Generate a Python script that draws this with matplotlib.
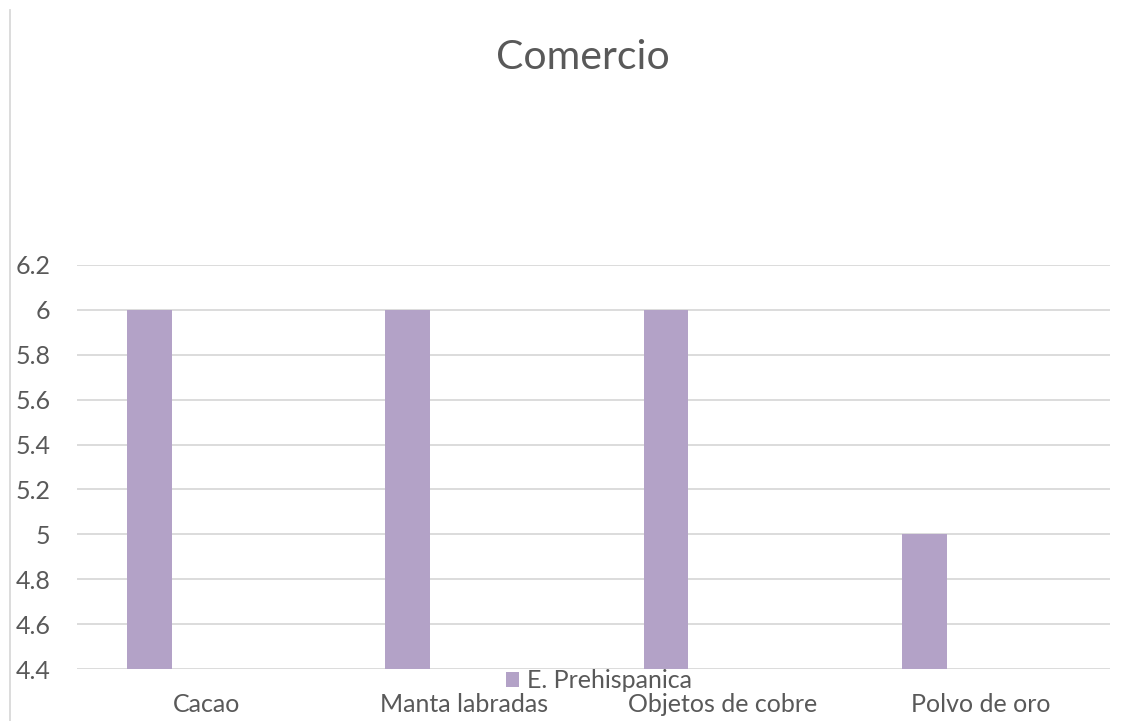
import numpy as np
import matplotlib.pyplot as plt
from matplotlib.lines import Line2D

# data
categories = ["Cacao", "Manta labradas", "Objetos de cobre", "Polvo de oro"]
prehispanica = [6, 6, 6, 5]
series_name = "E. Prehispanica"
y_ticks = [4.4, 4.6, 4.8, 5.0, 5.2, 5.4, 5.6, 5.8, 6.0, 6.2]

plt.rcParams['font.family'] = ['Lato', 'DejaVu Sans']
text_color = '#595959'

fig = plt.figure(figsize=(11.45, 7.21), dpi=100)
ax = fig.add_axes([0.0672, 0.0721, 0.9022, 0.5604])

x = np.arange(len(categories))
ax.bar(x - 0.219, prehispanica, width=0.174, color='#B3A2C7', label=series_name, zorder=3)

ax.set_xlim(-0.5, len(categories) - 0.5)
ax.set_ylim(4.4, 6.2)
ax.set_yticks(y_ticks)
ax.set_yticklabels([f"{v:g}" for v in y_ticks])
ax.set_xticks(x)
ax.set_xticklabels(categories)
ax.tick_params(axis='both', length=0, labelsize=18, labelcolor=text_color)
ax.tick_params(axis='x', pad=17)
ax.tick_params(axis='y', pad=19)

ax.grid(axis='y', color='#D9D9D9', linewidth=1.3, zorder=0)
for s in ax.spines.values():
    s.set_visible(False)

fig.text(0.509, 0.92, "Comercio", ha='center', va='center', fontsize=29.5, color=text_color)

fig.legend(loc='center', bbox_to_anchor=(0.523, 0.056), frameon=False, fontsize=18,
           handlelength=0.55, handleheight=0.55, handletextpad=0.3, labelcolor=text_color,
           borderpad=0)

fig.add_artist(Line2D([0.009, 0.009], [0.0, 0.986], color='#D9D9D9', linewidth=1.3,
                      transform=fig.transFigure))

fig.savefig("out.png", dpi=100)
